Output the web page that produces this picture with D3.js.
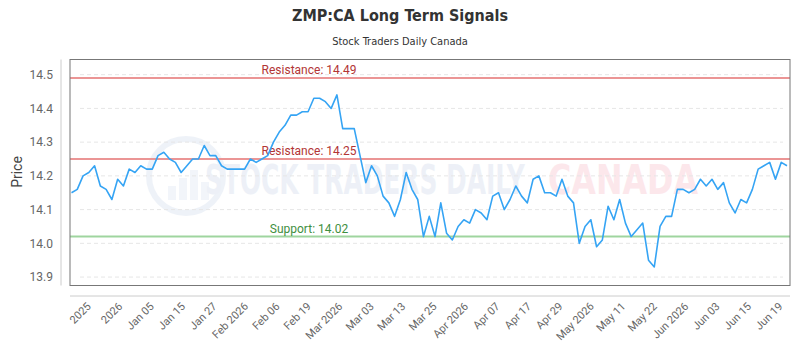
<!DOCTYPE html>
<html>
<head>
<meta charset="utf-8">
<script src="https://cdn.jsdelivr.net/npm/d3@7"></script>
<style>
  html, body { margin: 0; padding: 0; background: #fff; }
  svg { display: block; }
</style>
</head>
<body>
<svg id="chart" width="800" height="350"></svg>
<script>
// ---- data ----
const title = "ZMP:CA Long Term Signals";
const subtitle = "Stock Traders Daily Canada";
const prices = [
  14.15, 14.16, 14.20, 14.21, 14.23, 14.17, 14.16, 14.13, 14.19, 14.17,
  14.22, 14.21, 14.23, 14.22, 14.22, 14.26, 14.27, 14.25, 14.24, 14.21,
  14.23, 14.25, 14.25, 14.29, 14.26, 14.26, 14.23, 14.22, 14.22, 14.22,
  14.22, 14.25, 14.24, 14.25, 14.26, 14.30, 14.33, 14.35, 14.38, 14.38,
  14.39, 14.39, 14.43, 14.43, 14.42, 14.40, 14.44, 14.34, 14.34, 14.34,
  14.26, 14.18, 14.23, 14.20, 14.14, 14.12, 14.08, 14.13, 14.21, 14.16,
  14.13, 14.02, 14.08, 14.02, 14.12, 14.03, 14.01, 14.05, 14.07, 14.06,
  14.10, 14.09, 14.07, 14.14, 14.15, 14.10, 14.13, 14.17, 14.14, 14.12,
  14.19, 14.20, 14.15, 14.15, 14.14, 14.19, 14.14, 14.12, 14.00, 14.05,
  14.07, 13.99, 14.01, 14.11, 14.07, 14.13, 14.06, 14.02, 14.04, 14.06,
  13.95, 13.93, 14.05, 14.08, 14.08, 14.16, 14.16, 14.15, 14.16, 14.19,
  14.17, 14.19, 14.16, 14.18, 14.12, 14.09, 14.13, 14.12, 14.16, 14.22,
  14.23, 14.24, 14.19, 14.24, 14.23
];
const xTickLabels = ["2025", "2026", "Jan 05", "Jan 15", "Jan 27", "Feb 2026", "Feb 06", "Feb 19",
  "Mar 2026", "Mar 03", "Mar 13", "Mar 25", "Apr 2026", "Apr 07", "Apr 17", "Apr 29",
  "May 2026", "May 11", "May 22", "Jun 2026", "Jun 03", "Jun 15", "Jun 19"];
const yTicks = [13.9, 14.0, 14.1, 14.2, 14.3, 14.4, 14.5];
const levelNames = ["Resistance", "Resistance", "Support"];
const levelValues = [14.49, 14.25, 14.02];
const levelKinds = ["res", "res", "sup"];
const yDomain = [13.875, 14.545];

// ---- layout ----
const svg = d3.select("#chart");
const plot = { left: 70, right: 790, top: 59.5, bottom: 285.5 };
const fontMain = "'DejaVu Sans Condensed', 'Roboto', sans-serif";
const fontTick = "'Roboto', 'DejaVu Sans', sans-serif";

const x = d3.scaleLinear().domain([0, prices.length - 1]).range([71.5, 787]);
const y = d3.scaleLinear().domain(yDomain).range([plot.bottom, plot.top]);
const xl = d3.scalePoint().domain(xTickLabels).range([plot.left, plot.right]).padding(0.45);

// title
svg.append("text").attr("x", 400).attr("y", 21).attr("text-anchor", "middle")
  .style("font-family", fontMain).style("font-weight", "bold").style("font-size", "16px")
  .attr("fill", "#333").text(title);
svg.append("text").attr("x", 400).attr("y", 45).attr("text-anchor", "middle")
  .style("font-family", fontMain).style("font-size", "11px")
  .attr("fill", "#333").text(subtitle);

// watermark
const wm = svg.append("g").attr("opacity", 0.3);
wm.append("circle").attr("cx", 186).attr("cy", 176).attr("r", 37)
  .attr("fill", "none").attr("stroke", "#c9d6ea").attr("stroke-width", 6);
[[-18, 14], [-7, 22], [4, 30], [15, 18]].forEach(([dx, h]) => {
  wm.append("rect").attr("x", 186 + dx).attr("y", 200 - h).attr("width", 8).attr("height", h)
    .attr("fill", "#d6e0ef");
});
function fitText(g, str, x0, width, color) {
  const t = g.append("text").attr("x", 0).attr("y", 0)
    .style("font-family", fontMain).style("font-weight", "bold").style("font-size", "40px")
    .attr("fill", color).text(str);
  const w = t.node().getComputedTextLength() || width;
  t.attr("transform", `translate(${x0},194) scale(${width / w},1)`);
}
fitText(wm, "STOCK TRADERS DAILY", 205, 320, "#c4d1e6");
fitText(wm, "CANADA", 548, 150, "#f7b3c0");

// grid lines
svg.append("g").selectAll("line").data(yTicks).join("line")
  .attr("x1", 80).attr("x2", 783)
  .attr("y1", d => y(d)).attr("y2", d => y(d))
  .attr("stroke", "#e6e6e6").attr("stroke-width", 1).attr("stroke-dasharray", "4,3");

// y axis
const yAxis = d3.axisLeft(y).tickValues(yTicks).tickFormat(d3.format(".1f")).tickSize(0).tickPadding(8);
const yg = svg.append("g").attr("transform", "translate(61,0)").call(yAxis);
yg.select(".domain").attr("stroke", "#ccc").attr("d", `M0,${plot.top}V${plot.bottom}`);
yg.selectAll("text").style("font-family", fontTick).style("font-size", "12px").attr("fill", "#666");

// x axis
const xAxis = d3.axisBottom(xl).tickSize(0).tickPadding(0);
const xg = svg.append("g").attr("transform", "translate(0,296)").call(xAxis);
xg.select(".domain").attr("stroke", "#ccc").attr("d", `M${plot.left},0H${plot.right}`);
xg.selectAll("text")
  .style("font-family", fontTick).style("font-size", "11px").attr("fill", "#666")
  .attr("text-anchor", "end").attr("dy", null)
  .attr("transform", "translate(7,11) rotate(-45)")
  .attr("x", 0).attr("y", 0);

// y label
svg.append("text").attr("transform", "translate(22,172) rotate(-90)").attr("text-anchor", "middle")
  .style("font-family", fontTick).style("font-size", "14px").attr("fill", "#444").text("Price");

// levels
const levels = levelValues.map((v, i) => ({ v, name: levelNames[i], kind: levelKinds[i] }));
svg.append("g").selectAll("line").data(levels).join("line")
  .attr("x1", plot.left).attr("x2", plot.right)
  .attr("y1", d => y(d.v)).attr("y2", d => y(d.v))
  .attr("stroke", d => d.kind === "res" ? "#eb9595" : "#9fd59f").attr("stroke-width", 2);
svg.append("g").selectAll("text").data(levels).join("text")
  .attr("x", 309).attr("y", d => y(d.v) - 4).attr("text-anchor", "middle")
  .style("font-family", fontTick).style("font-size", "12px")
  .attr("fill", d => d.kind === "res" ? "#b23535" : "#3f8f3f")
  .text(d => `${d.name}: ${d.v.toFixed(2)}`);

// price line
svg.append("path").datum(prices)
  .attr("d", d3.line().x((d, i) => x(i)).y(d => y(d)))
  .attr("fill", "none").attr("stroke", "#35a4f4").attr("stroke-width", 1.6)
  .attr("stroke-linejoin", "round");

// plot border
svg.append("rect").attr("x", plot.left).attr("y", plot.top)
  .attr("width", plot.right - plot.left).attr("height", plot.bottom - plot.top)
  .attr("fill", "none").attr("stroke", "#777").attr("stroke-width", 1);
</script>
</body>
</html>
